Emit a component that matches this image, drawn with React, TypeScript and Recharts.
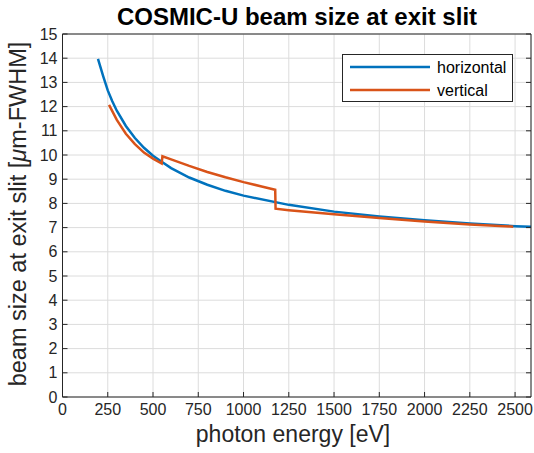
import { LineChart, Line, XAxis, YAxis, CartesianGrid, Legend, Label } from 'recharts';

// horizontal beam size (blue)
const hEnergy = [196, 225, 250, 275, 300, 350, 400, 450, 500, 550, 600, 700, 800, 900, 1000, 1250, 1500, 1750, 2000, 2250, 2500, 2588];
const hSize = [13.97, 13.25, 12.67, 12.22, 11.83, 11.2, 10.7, 10.3, 9.97, 9.71, 9.46, 9.07, 8.77, 8.52, 8.32, 7.94, 7.66, 7.46, 7.3, 7.17, 7.06, 7.03];

// vertical beam size (orange), with the two jumps
const vEnergy = [257, 300, 350, 400, 450, 500, 548, 552, 600, 700, 800, 900, 1000, 1100, 1175, 1177, 1250, 1500, 1750, 2000, 2250, 2490];
const vSize = [12.07, 11.45, 10.88, 10.45, 10.1, 9.85, 9.65, 9.95, 9.82, 9.55, 9.3, 9.08, 8.88, 8.7, 8.56, 7.78, 7.72, 7.55, 7.4, 7.25, 7.13, 7.04];

const xTicks = [0, 250, 500, 750, 1000, 1250, 1500, 1750, 2000, 2250, 2500];
const yTicks = [0, 1, 2, 3, 4, 5, 6, 7, 8, 9, 10, 11, 12, 13, 14, 15];

const hData = hEnergy.map((e, i) => ({ e, v: hSize[i] }));
const vData = vEnergy.map((e, i) => ({ e, v: vSize[i] }));

const BLUE = '#0072BD';
const ORANGE = '#D95319';
const AXIS = '#262626';
const FONT = '"Liberation Sans", Arial, Helvetica, sans-serif';
const TICK = 5;

const BottomTick = ({ x, y, payload }: any) => (
  <g>
    <line x1={x} x2={x} y1={y} y2={y - TICK} stroke={AXIS} />
    <text x={x} y={y + 18} textAnchor="middle" fontSize={16} fill={AXIS} fontFamily={FONT}>{payload.value}</text>
  </g>
);
const TopTick = ({ x, y }: any) => <line x1={x} x2={x} y1={y} y2={y + TICK} stroke={AXIS} />;
const LeftTick = ({ x, y, payload }: any) => (
  <g>
    <line x1={x} x2={x + TICK} y1={y} y2={y} stroke={AXIS} />
    <text x={x - 5} y={y} textAnchor="end" dominantBaseline="central" fontSize={16} fill={AXIS} fontFamily={FONT}>{payload.value}</text>
  </g>
);
const RightTick = ({ x, y }: any) => <line x1={x} x2={x - TICK} y1={y} y2={y} stroke={AXIS} />;

const LegendBox = () => (
  <div style={{ border: `1px solid ${AXIS}`, background: '#fff', width: 171, height: 48, boxSizing: 'border-box' }}>
    <svg width={169} height={46} style={{ display: 'block' }}>
      <line x1={7} x2={87} y1={12} y2={12} stroke={BLUE} strokeWidth={2.5} />
      <text x={94} y={12} dominantBaseline="central" fontSize={16} fill="#000" fontFamily={FONT}>horizontal</text>
      <line x1={7} x2={87} y1={35} y2={35} stroke={ORANGE} strokeWidth={2.5} />
      <text x={94} y={35} dominantBaseline="central" fontSize={16} fill="#000" fontFamily={FONT}>vertical</text>
    </svg>
  </div>
);

const App = () => (
  <div style={{ position: 'absolute', left: 0, top: 0, background: '#fff' }}>
    <LineChart width={534} height={453} margin={{ top: 0, right: 0, bottom: 0, left: 0 }}>
      <CartesianGrid stroke="#dcdcdc" />
      <XAxis dataKey="e" type="number" domain={[0, 2588]} ticks={xTicks} allowDataOverflow height={56}
        tick={BottomTick} tickLine={false} tickSize={0} tickMargin={0} axisLine={{ stroke: AXIS }} interval={0}>
        <Label content={() => (
          <text x={293} y={442} textAnchor="middle" fontSize={23} fill={AXIS} fontFamily={FONT}>photon energy [eV]</text>
        )} />
      </XAxis>
      <XAxis xAxisId="top" orientation="top" type="number" domain={[0, 2588]} ticks={xTicks} allowDataOverflow height={34}
        tick={TopTick} tickLine={false} tickSize={0} tickMargin={0} axisLine={{ stroke: AXIS }} interval={0}>
        <Label content={() => (
          <text x={297} y={25} textAnchor="middle" fontSize={24} fontWeight="bold" fill="#000" fontFamily={FONT}>COSMIC-U beam size at exit slit</text>
        )} />
      </XAxis>
      <YAxis type="number" domain={[0, 15]} ticks={yTicks} allowDataOverflow width={62.5}
        tick={LeftTick} tickLine={false} tickSize={0} tickMargin={0} axisLine={{ stroke: AXIS }} interval={0}>
        <Label content={() => (
          <text transform="translate(26,214) rotate(-90)" textAnchor="middle" fontSize={23.5} fill={AXIS} fontFamily={FONT}>
            beam size at exit slit [<tspan fontStyle="italic">μ</tspan>m-FWHM]
          </text>
        )} />
      </YAxis>
      <YAxis yAxisId="right" orientation="right" type="number" domain={[0, 15]} ticks={yTicks} allowDataOverflow width={3}
        tick={RightTick} tickLine={false} tickSize={0} tickMargin={0} axisLine={{ stroke: AXIS }} interval={0} />
      <Legend verticalAlign="middle" content={LegendBox}
        wrapperStyle={{ position: 'absolute', left: 342, top: 54, width: 171, height: 48 }} />
      <Line data={hData} dataKey="v" name="horizontal" stroke={BLUE} strokeWidth={2.5} dot={false} isAnimationActive={false} />
      <Line data={vData} dataKey="v" name="vertical" stroke={ORANGE} strokeWidth={2.5} dot={false} isAnimationActive={false} />
    </LineChart>
  </div>
);

export default App;
